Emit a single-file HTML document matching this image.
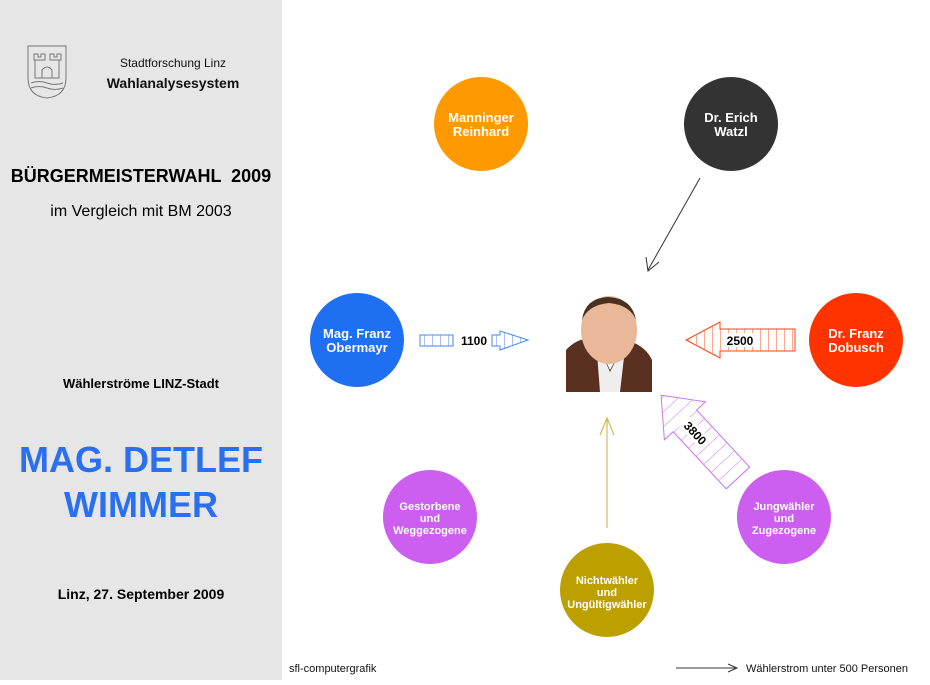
<!DOCTYPE html>
<html><head><meta charset="utf-8"><style>
body{margin:0;width:930px;height:680px;overflow:hidden;background:#fff;font-family:"Liberation Sans",Arial,sans-serif}
</style></head><body>
<svg width="930" height="680" xmlns="http://www.w3.org/2000/svg" font-family="Liberation Sans, Arial, sans-serif">
<defs>
<pattern id="hb" width="8" height="10" patternUnits="userSpaceOnUse"><line x1="0" y1="0" x2="0" y2="10" stroke="#4a86f0" stroke-width="1"/></pattern>
<pattern id="hr" width="8" height="10" patternUnits="userSpaceOnUse"><line x1="0" y1="0" x2="0" y2="10" stroke="#ff5522" stroke-width="1"/></pattern>
<pattern id="hp" width="11" height="10" patternUnits="userSpaceOnUse"><line x1="0" y1="0" x2="0" y2="10" stroke="#cc77ee" stroke-width="1"/></pattern>
</defs>
<rect x="0" y="0" width="282" height="680" fill="#e6e6e6"/>
<g fill="none" stroke="#777" stroke-width="1">
<path d="M28 46 H66 V78 Q66 96 47 98 Q28 96 28 78 Z"/>
<path d="M34 54 h4 v3 h3 v-3 h4 v6 h-11z M50 54 h4 v3 h3 v-3 h4 v6 h-11z"/>
<path d="M35 60 V78 H59 V60 M42 78 V70 Q47 64 52 70 V78"/>
<path d="M31 83 Q39 80 47 83 Q55 86 63 83 M31 88 Q39 85 47 88 Q55 91 63 88"/>
</g>
<text x="173" y="67" font-size="12" text-anchor="middle" fill="#111">Stadtforschung Linz</text>
<text x="173" y="88" font-size="14" font-weight="bold" text-anchor="middle" fill="#111">Wahlanalysesystem</text>
<text x="141" y="182" font-size="18" font-weight="bold" text-anchor="middle" fill="#000" xml:space="preserve">BÜRGERMEISTERWAHL  2009</text>
<text x="141" y="216" font-size="16" text-anchor="middle" fill="#000">im Vergleich mit BM 2003</text>
<text x="141" y="388" font-size="13" font-weight="bold" text-anchor="middle" fill="#000">Wählerströme LINZ-Stadt</text>
<text x="141" y="472" font-size="36" font-weight="bold" text-anchor="middle" fill="#2a6ff0">MAG. DETLEF</text>
<text x="141" y="517" font-size="36" font-weight="bold" text-anchor="middle" fill="#2a6ff0">WIMMER</text>
<text x="141" y="599" font-size="14" font-weight="bold" text-anchor="middle" fill="#000">Linz, 27. September 2009</text>

<g font-weight="bold" fill="#fff" text-anchor="middle" font-size="13">
<circle cx="481" cy="124" r="47" fill="#ff9900"/>
<text x="481" y="122">Manninger</text><text x="481" y="136">Reinhard</text>
<circle cx="731" cy="124" r="47" fill="#333333"/>
<text x="731" y="122">Dr. Erich</text><text x="731" y="136">Watzl</text>
<circle cx="357" cy="340" r="47" fill="#1f6ff2"/>
<text x="357" y="338">Mag. Franz</text><text x="357" y="352">Obermayr</text>
<circle cx="856" cy="340" r="47" fill="#ff3300"/>
<text x="856" y="338">Dr. Franz</text><text x="856" y="352">Dobusch</text>
<g font-size="11">
<circle cx="430" cy="517" r="47" fill="#cc5ff0"/>
<text x="430" y="510">Gestorbene</text><text x="430" y="522">und</text><text x="430" y="534">Weggezogene</text>
<circle cx="784" cy="517" r="47" fill="#cc5ff0"/>
<text x="784" y="510">Jungwähler</text><text x="784" y="522">und</text><text x="784" y="534">Zugezogene</text>
<circle cx="607" cy="590" r="47" fill="#bba000"/>
<text x="607" y="584">Nichtwähler</text><text x="607" y="596">und</text><text x="607" y="608">Ungültigwähler</text>
</g>
</g>

<rect x="566" y="297" width="86" height="95" fill="#fff"/>
<path d="M566 392 V350 Q580 335 596 340 L610 370 L626 340 Q645 345 652 360 V392 Z" fill="#5a3020"/>
<path d="M596 340 L610 372 L626 340 L620 392 H600 Z" fill="#eee"/>
<ellipse cx="609" cy="330" rx="28" ry="34" fill="#e8b898"/>
<path d="M582 320 Q585 298 608 297 Q632 298 636 320 Q630 305 609 303 Q588 305 582 320Z" fill="#4a3020"/>

<g stroke="#333" fill="none" stroke-width="1">
<line x1="700" y1="178" x2="648" y2="270"/>
<path d="M646 257 L648 271 L659 262"/>
</g>
<g stroke="#c8b040" fill="none" stroke-width="1">
<line x1="607" y1="528" x2="607" y2="420"/>
<path d="M600 435 L607 418 L614 435"/>
</g>
<rect x="420" y="335" width="33" height="11" fill="url(#hb)" stroke="#4a86f0"/>
<text x="474" y="345" font-size="12" font-weight="bold" text-anchor="middle" fill="#000">1100</text>
<path d="M492 335 H500 V331 L528 340 L500 350 V346 H492 Z" fill="url(#hb)" stroke="#4a86f0"/>
<path d="M795 329 H720 V322 L686 340 L720 358 V351 H795 Z" fill="url(#hr)" stroke="#ff4411"/>
<rect x="722" y="333" width="34" height="14" fill="#fff"/>
<text x="740" y="345" font-size="12" font-weight="bold" text-anchor="middle" fill="#000">2500</text>
<g transform="translate(738,478) rotate(-132.9)">
<path d="M0 -16 H78 V-28 L113 0 L78 28 V16 H0 Z" fill="url(#hp)" stroke="#cc77ee"/>
<rect x="48" y="-8" width="30" height="14" fill="#fff"/>
<text x="62" y="5" font-size="12" font-weight="bold" text-anchor="middle" fill="#000" transform="rotate(180 62 0)">3800</text>
</g>

<text x="289" y="672" font-size="11" fill="#111">sfl-computergrafik</text>
<line x1="676" y1="668" x2="736" y2="668" stroke="#333"/>
<path d="M728 664 L737 668 L728 672" fill="none" stroke="#333"/>
<text x="746" y="672" font-size="11" fill="#111">Wählerstrom unter 500 Personen</text>
</svg>
</body></html>
